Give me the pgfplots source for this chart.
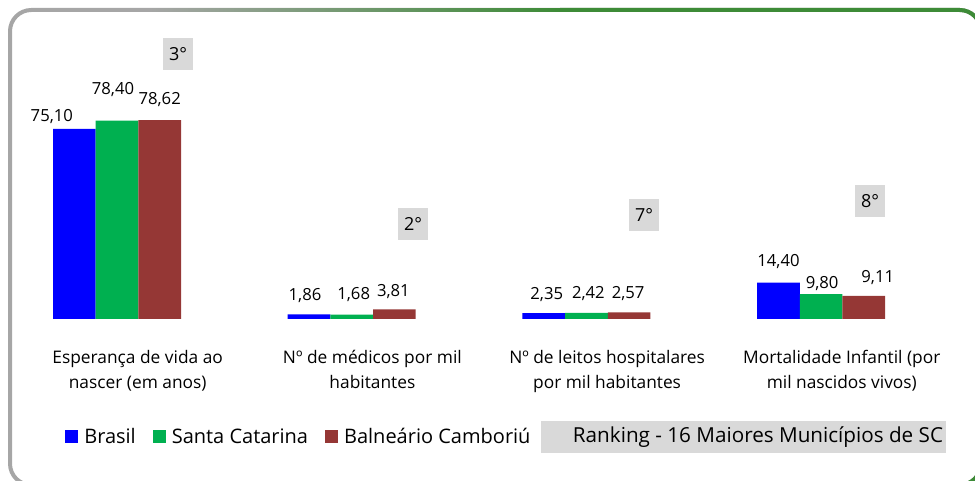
\documentclass[border=0pt]{standalone}
\usepackage{pgfplots}
\pgfplotsset{compat=1.18}
\usepackage{fontspec}
\setmainfont{Open Sans}

\definecolor{cblue}{HTML}{0000FF}
\definecolor{cgreen}{HTML}{00B050}
\definecolor{cred}{HTML}{953735}
\definecolor{boxgray}{HTML}{D9D9D9}
\definecolor{framegray}{HTML}{A6A6A6}
\definecolor{framegreen}{HTML}{3D8B37}

% value label: bar shift, dx, dy (px), x, value
\newcommand{\lbl}[5]{%
  \addplot[draw=none, fill=none, forget plot, bar shift=#1,
    nodes near coords,
    every node near coord/.append style={anchor=center, inner sep=0pt,
      xshift=#2*0.75pt, yshift=#3*0.75pt}]
    coordinates {(#4,#5)};}

\begin{document}
\begin{tikzpicture}[x=0.75pt,y=0.75pt]
\useasboundingbox (0,0) rectangle (975,481);
\begin{scope}
\clip (0,0) rectangle (975,481);
\draw[line width=3pt, framegray, rounded corners=16pt] (10,-4) rectangle (981,471);
\draw[line width=3pt, framegreen, rounded corners=16pt] (560,471) -- (981,471) -- (981,-4) -- (800,-4);
\shade[left color=framegray, right color=framegreen] (150,469.5) rectangle (560,472.5);
\end{scope}
\coordinate (origin) at (11.4,162);

\begin{axis}[
  at={(origin)}, anchor=south west,
  scale only axis,
  width=686.5pt, height=210pt,
  xmin=-0.45, xmax=3.45,
  ymin=0, ymax=110.67,
  ybar=0pt, bar width=32pt,
  clip=false,
  axis line style={draw=none},
  ytick=\empty,
  xtick={0,1,2,3},
  xticklabels={{Esperança de vida ao\\nascer (em anos)},
               {Nº de médicos por mil\\habitantes},
               {Nº de leitos hospitalares\\por mil habitantes},
               {Mortalidade Infantil (por\\mil nascidos vivos)}},
  major tick length=0pt,
  xticklabel style={align=center, inner sep=0pt, yshift=-23pt, xshift=15.5pt,
    font=\fontsize{13pt}{18.75pt}\selectfont},
  /pgf/number format/use comma,
  /pgf/number format/fixed,
  /pgf/number format/fixed zerofill,
  /pgf/number format/precision=2,
  /pgf/number format/assume math mode=true,
  every node near coord/.append style={font=\fontsize{12.5pt}{14pt}\selectfont},
  legend columns=3,
  legend style={at={(0.0586,-0.4214)}, anchor=west, draw=none, fill=none,
    inner sep=0pt, font=\fontsize{15pt}{18pt}\selectfont,
    nodes={inner sep=0pt},
    /tikz/every odd column/.append style={column sep=4.5pt},
    /tikz/every even column/.append style={column sep=12.75pt}},
  legend image code/.code={\path[draw=none,#1] (0pt,-4.5pt) rectangle (9.75pt,5.25pt);},
]
\addplot[fill=cblue, draw=none, bar shift=-32pt]
  coordinates {(0,75.10) (1,1.86) (2,2.35) (3,14.40)};
\addlegendentry{Brasil}
\addplot[fill=cgreen, draw=none, bar shift=0pt]
  coordinates {(0,78.40) (1,1.68) (2,2.42) (3,9.80)};
\addlegendentry{Santa Catarina}
\addplot[fill=cred, draw=none, bar shift=32pt]
  coordinates {(0,78.62) (1,3.81) (2,2.57) (3,9.11)};
\addlegendentry{Balneário Camboriú}

\lbl{-32pt}{-22.5}{12}{0}{75.10}
\lbl{-32pt}{-4}{19}{1}{1.86}
\lbl{-32pt}{3}{19}{2}{2.35}
\lbl{-32pt}{0}{21}{3}{14.40}
\lbl{0pt}{-4}{31}{0}{78.40}
\lbl{0pt}{2}{20}{1}{1.68}
\lbl{0pt}{2}{19}{2}{2.42}
\lbl{0pt}{1}{11}{3}{9.80}
\lbl{32pt}{0}{21}{0}{78.62}
\lbl{32pt}{-1}{18}{1}{3.81}
\lbl{32pt}{-1}{18.5}{2}{2.57}
\lbl{32pt}{14}{18}{3}{9.11}
\end{axis}

% ranking boxes
\tikzset{rk/.style={fill=boxgray, minimum width=22.5pt, minimum height=24pt,
  inner sep=0pt, font=\fontsize{13.5pt}{16pt}\selectfont}}
\node[rk] at (178,427) {3°};
\node[rk] at (413,257) {2°};
\node[rk] at (644,266) {7°};
\node[rk] at (870,280) {8°};

\fill[boxgray] (541,28) rectangle (946,60);
\node[font=\fontsize{15.5pt}{18pt}\selectfont, inner sep=0pt] at (758,44)
  {Ranking - 16 Maiores Municípios de SC};
\end{tikzpicture}
\end{document}
